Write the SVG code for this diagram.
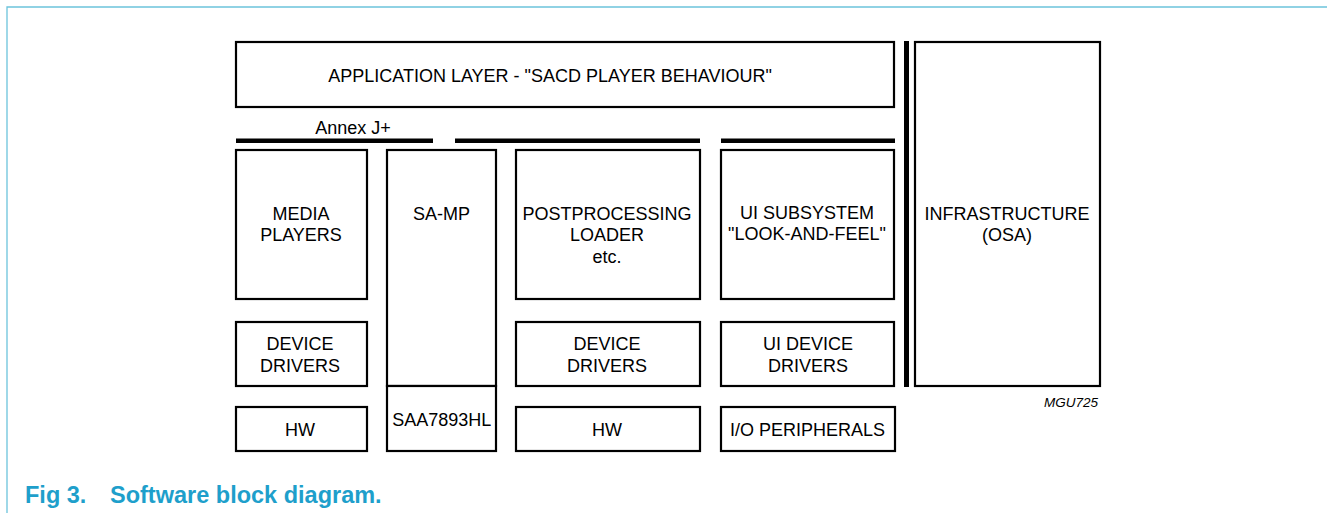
<svg xmlns="http://www.w3.org/2000/svg" width="1327" height="513" viewBox="0 0 1327 513">
<style>
.box{fill:#fff;stroke:#000;stroke-width:2.2}
.bar{fill:#000}
.t{font-family:"Liberation Sans",Arial,sans-serif;font-size:18px;fill:#000;text-anchor:middle}
.frame{stroke:#6cc4dc;stroke-width:1.3;fill:none}
.cap{font-family:"Liberation Sans",Arial,sans-serif;font-size:23.5px;font-weight:bold;fill:#1e9fcb}
</style>
<rect width="1327" height="513" fill="#fff"/>
<path class="frame" d="M7,513 V7 H1327"/>
<g id="app"><rect class="box" x="236" y="42" width="658" height="65"/><text class="t" x="550" y="81.5">APPLICATION LAYER - "SACD PLAYER BEHAVIOUR"</text></g>
<g id="annex"><text class="t" x="353" y="133.5">Annex J+</text></g>
<g id="connectors">
<rect class="bar" x="236" y="138.5" width="197" height="4.5"/>
<rect class="bar" x="455" y="138.5" width="245" height="4.5"/>
<rect class="bar" x="721" y="138.5" width="174" height="4.5"/>
<rect class="bar" x="904" y="41" width="5" height="346"/>
</g>
<g id="media"><rect class="box" x="236" y="150" width="131" height="149"/><text class="t" x="301" y="220">MEDIA</text><text class="t" x="301" y="241">PLAYERS</text></g>
<g id="samp"><rect class="box" x="387" y="150" width="109" height="236"/><text class="t" x="441.5" y="220">SA-MP</text></g>
<g id="saa"><rect class="box" x="387" y="386" width="109" height="65"/><text class="t" x="441.7" y="426">SAA7893HL</text></g>
<g id="post"><rect class="box" x="516" y="150" width="184" height="149"/><text class="t" x="607" y="220">POSTPROCESSING</text><text class="t" x="607" y="241">LOADER</text><text class="t" x="607" y="263">etc.</text></g>
<g id="uisub"><rect class="box" x="721" y="150" width="173" height="149"/><text class="t" x="807" y="219">UI SUBSYSTEM</text><text class="t" x="807" y="240">"LOOK-AND-FEEL"</text></g>
<g id="infra"><rect class="box" x="915" y="42" width="185" height="344"/><text class="t" x="1007" y="220">INFRASTRUCTURE</text><text class="t" x="1007" y="241">(OSA)</text></g>
<g id="dd1"><rect class="box" x="236" y="322" width="131" height="64"/><text class="t" x="300" y="350">DEVICE</text><text class="t" x="300" y="372">DRIVERS</text></g>
<g id="hw1"><rect class="box" x="236" y="407" width="131" height="44"/><text class="t" x="300" y="436">HW</text></g>
<g id="dd2"><rect class="box" x="516" y="322" width="184" height="64"/><text class="t" x="607" y="350">DEVICE</text><text class="t" x="607" y="372">DRIVERS</text></g>
<g id="hw2"><rect class="box" x="516" y="407" width="184" height="44"/><text class="t" x="607" y="436">HW</text></g>
<g id="uidd"><rect class="box" x="721" y="322" width="173" height="64"/><text class="t" x="808" y="350">UI DEVICE</text><text class="t" x="808" y="372">DRIVERS</text></g>
<g id="io"><rect class="box" x="721" y="407" width="174" height="44"/><text class="t" x="807.5" y="436">I/O PERIPHERALS</text></g>
<text x="1098" y="406.5" font-family="Liberation Sans,Arial,sans-serif" font-size="13.5" font-style="italic" text-anchor="end">MGU725</text>
<text class="cap" x="25" y="502.5">Fig 3.</text>
<text class="cap" x="110" y="502.5">Software block diagram.</text>
</svg>
